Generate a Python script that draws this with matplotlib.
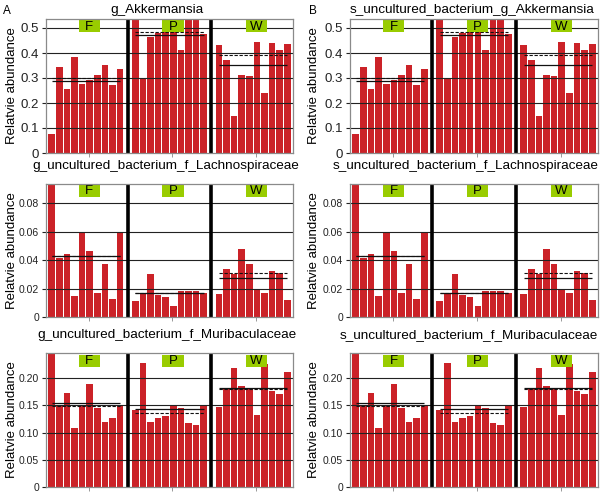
import numpy as np
import matplotlib
matplotlib.use("Agg")
import matplotlib.pyplot as plt
from matplotlib.patches import Rectangle
from matplotlib.transforms import blended_transform_factory

plt.rcParams['font.family'] = ['Liberation Sans', 'DejaVu Sans']

groups = ["F", "P", "W"]

# Akkermansia relative abundance (10 samples per group)
akk_F = [0.075, 0.345, 0.255, 0.385, 0.275, 0.290, 0.310, 0.350, 0.270, 0.335]
akk_P = [0.550, 0.295, 0.465, 0.480, 0.485, 0.485, 0.410, 0.530, 0.550, 0.475]
akk_W = [0.430, 0.370, 0.148, 0.312, 0.308, 0.445, 0.240, 0.440, 0.410, 0.435]

# Lachnospiraceae uncultured bacterium
lach_F = [0.0945, 0.0415, 0.044, 0.015, 0.060, 0.0465, 0.017, 0.037, 0.013, 0.059]
lach_P = [0.011, 0.017, 0.030, 0.0155, 0.014, 0.0075, 0.0185, 0.018, 0.018, 0.017]
lach_W = [0.0165, 0.0335, 0.0305, 0.048, 0.037, 0.020, 0.017, 0.032, 0.031, 0.012]

# Muribaculaceae uncultured bacterium
muri_F = [0.244, 0.148, 0.173, 0.108, 0.148, 0.190, 0.145, 0.119, 0.127, 0.148]
muri_P = [0.142, 0.228, 0.120, 0.126, 0.131, 0.150, 0.145, 0.117, 0.113, 0.151]
muri_W = [0.146, 0.180, 0.219, 0.186, 0.181, 0.132, 0.225, 0.176, 0.170, 0.211]

titles_A = ["g_Akkermansia",
            "g_uncultured_bacterium_f_Lachnospiraceae",
            "g_uncultured_bacterium_f_Muribaculaceae"]
titles_B = ["s_uncultured_bacterium_g_Akkermansia",
            "s_uncultured_bacterium_f_Lachnospiraceae",
            "s_uncultured_bacterium_f_Muribaculaceae"]

row_data = [[akk_F, akk_P, akk_W], [lach_F, lach_P, lach_W], [muri_F, muri_P, muri_W]]
row_ylim = [0.536, 0.0935, 0.246]
row_ticks = [[0, 0.1, 0.2, 0.3, 0.4, 0.5],
             [0, 0.02, 0.04, 0.06, 0.08],
             [0, 0.05, 0.10, 0.15, 0.20]]
row_ticklabels = [["0", "0.1", "0.2", "0.3", "0.4", "0.5"],
                  ["0", "0.02", "0.04", "0.06", "0.08"],
                  ["0", "0.05", "0.10", "0.15", "0.20"]]
ylabel = "Relatvie abundance"

W, H = 605, 494
fig = plt.figure(figsize=(W / 100, H / 100), dpi=100)

rows_px = [(19, 153), (184, 317), (353, 487)]
cols_px = [(46, 293), (350, 598)]
title_pos = [[(157, 10), (472, 10)], [(166, 166), (466, 166)], [(167, 335), (469, 335)]]
ylabel_x = [12, 314]

bar_color = "#CB2228"
green = "#99CC00"


def rect(l, t, r, b):
    return [l / W, 1 - b / H, (r - l) / W, (b - t) / H]


for ci, (l, r) in enumerate(cols_px):
    for ri, (t, b) in enumerate(rows_px):
        ax = fig.add_axes(rect(l, t, r, b))
        data = row_data[ri]
        for g, vals in enumerate(data):
            x = np.arange(len(vals)) + g * 11
            ax.bar(x, vals, width=0.86, color=bar_color, edgecolor='none', zorder=2)
            m = np.mean(vals)
            md = np.median(vals)
            ax.hlines(m, g * 11, g * 11 + 9, color='#111111', lw=0.9, zorder=5)
            ax.hlines(md, g * 11, g * 11 + 9, color='#111111', lw=0.8,
                      linestyles=(0, (3, 1.5)), zorder=5)
        ax.set_xlim(-0.75, 31.75)
        ax.set_ylim(0, row_ylim[ri])
        for yt in row_ticks[ri][1:]:
            ax.axhline(yt, color='#222222', lw=0.8, zorder=3)
        for sx in (10, 21):
            ax.axvline(sx, color='black', lw=2.6, zorder=6)
        # group labels
        hpx = b - t
        trans = blended_transform_factory(ax.transData, ax.transAxes)
        for g, name in enumerate(groups):
            cx = g * 11 + 4.95
            bw = 2.8
            bh = 12 / hpx
            top = 1 - 1.5 / hpx
            ax.add_patch(Rectangle((cx - bw / 2, top - bh), bw, bh, transform=trans,
                                   facecolor=green, edgecolor='none', zorder=7))
            ax.text(cx, top - bh / 2, name, transform=trans, ha='center', va='center',
                    fontsize=9.5, zorder=8)
        ax.set_yticks(row_ticks[ri])
        ax.set_yticklabels(row_ticklabels[ri])
        ax.set_xticks([g * 11 + 4.85 for g in range(3)])
        ax.set_xticklabels([])
        fs = 9.5 if ri == 0 else 7.5
        ax.tick_params(axis='y', length=3, width=0.8, pad=2, labelsize=fs, colors='#222222')
        ax.tick_params(axis='x', length=3, width=0.6, colors='#888888')
        for sp in ax.spines.values():
            sp.set_color('#8a8a8a')
            sp.set_linewidth(0.9)
            sp.set_zorder(9)
        tx, ty = title_pos[ri][ci]
        fig.text(tx / W, 1 - ty / H, (titles_A if ci == 0 else titles_B)[ri],
                 ha='center', va='center', fontsize=9.7)
        fig.text(ylabel_x[ci] / W, 1 - ((t + b) / 2) / H, ylabel, rotation=90,
                 ha='center', va='center', fontsize=9.5)

fig.text(3 / W, 1 - 11 / H, "A", ha='left', va='center', fontsize=8.5)
fig.text(309 / W, 1 - 11 / H, "B", ha='left', va='center', fontsize=8.5)

fig.savefig("out.png", dpi=100)
